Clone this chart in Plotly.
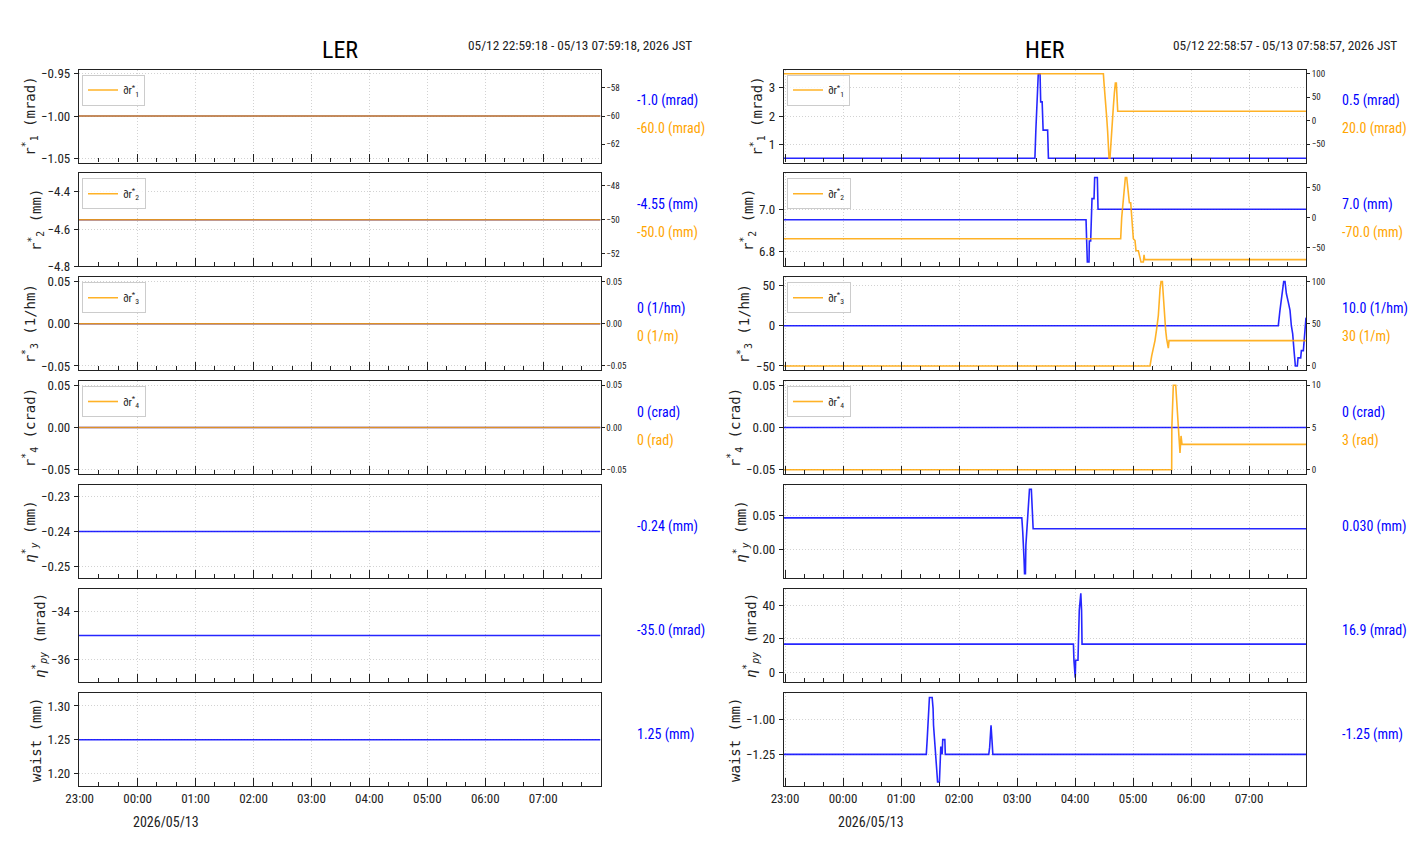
import pandas as pd
import plotly.graph_objects as go

# ---------------- data ----------------
LER_START, LER_END = "22:59:18", "07:59:18"
HER_START, HER_END = "22:58:57", "07:58:57"
ler_range_text = "05/12 22:59:18 - 05/13 07:59:18, 2026 JST"
her_range_text = "05/12 22:58:57 - 05/13 07:58:57, 2026 JST"
date_label = "2026/05/13"

# LER: all knobs constant over the window
ler_t = [LER_START, LER_END]
ler_r1 = [-1.0, -1.0]
ler_dr1 = [-60.0, -60.0]
ler_r2 = [-4.55, -4.55]
ler_dr2 = [-50.0, -50.0]
ler_r3 = [0.0, 0.0]
ler_dr3 = [0.0, 0.0]
ler_r4 = [0.0, 0.0]
ler_dr4 = [0.0, 0.0]
ler_ey = [-0.24, -0.24]
ler_epy = [-35.0, -35.0]
ler_waist = [1.25, 1.25]

# HER
her_r1_t = ["22:58:57", "03:18:30", "03:19:30", "03:20:30", "03:22:00", "03:23:50", "03:24:30",
            "03:26:00", "03:27:00", "03:31:40", "03:32:30", "07:58:57"]
her_r1 = [0.5, 0.5, 1.5, 2.5, 3.5, 3.5, 2.5, 2.5, 1.5, 1.5, 0.5, 0.5]

her_dr1_t = ["22:58:57", "04:29:20", "04:30:00", "04:31:00", "04:32:00", "04:32:45", "04:33:45",
             "04:34:30", "04:35:10", "04:36:10", "04:37:15", "04:38:15", "04:39:40", "04:40:40",
             "04:41:45", "04:42:45", "04:43:05", "04:44:10", "07:58:57"]
her_dr1 = [100, 100, 80, 58, 37, 8, -23, -58, -80, -80, -40, -9, 30, 58, 80, 80, 58, 20, 20]

her_r2_t = ["22:58:57", "04:11:24", "04:12:03", "04:12:45", "04:14:28", "04:14:50", "04:16:12",
            "04:17:35", "04:19:40", "04:20:20", "04:23:06", "04:23:49", "07:58:57"]
her_r2 = [6.95, 6.95, 6.85, 6.75, 6.75, 6.85, 6.85, 7.05, 7.05, 7.15, 7.15, 7.0, 7.0]

her_dr2_t = ["22:58:57", "04:47:14", "04:48:17", "04:50:00", "04:51:20", "04:52:05", "04:53:28",
             "04:54:29", "04:56:13", "04:57:36", "04:58:38", "05:00:20", "05:02:03", "05:03:06",
             "05:05:31", "05:07:14", "05:08:17", "05:10:41", "05:11:24", "05:12:03", "07:58:57"]
her_dr2 = [-35, -35, 0, 38, 63, 67, 67, 50, 25, 25, 3, -35, -38, -55, -55, -71, -74, -74, -62, -70, -70]

her_r3_t = ["22:58:57", "07:30:18", "07:32:00", "07:32:46", "07:34:30", "07:35:53", "07:37:15",
            "07:38:38", "07:40:41", "07:42:25", "07:43:48", "07:45:11", "07:46:34", "07:47:57",
            "07:49:58", "07:50:42", "07:53:28", "07:54:10", "07:56:13", "07:56:53", "07:58:57"]
her_r3 = [0, 0, 19, 27, 42, 55, 55, 40, 29, 19, 0, -10, -31, -50, -50, -40, -40, -31, -31, -19, 10]

her_dr3_t = ["22:58:57", "05:17:35", "05:19:19", "05:21:04", "05:22:44", "05:24:29", "05:26:13",
             "05:27:58", "05:28:59", "05:30:22", "05:31:23", "05:32:46", "05:33:47", "05:34:48",
             "05:35:53", "05:36:32", "05:37:15", "07:58:57"]
her_dr3 = [0, 0, 12, 20, 30, 44, 60, 91, 100, 100, 81, 64, 42, 32, 21, 21, 30, 30]

her_r4_t = ["22:58:57", "07:58:57"]
her_r4 = [0.0, 0.0]

her_dr4_t = ["22:58:57", "05:40:00", "05:40:10", "05:41:02", "05:41:42", "05:44:10", "05:45:11",
             "05:46:12", "05:47:35", "05:48:36", "05:49:41", "05:50:42", "07:58:57"]
her_dr4 = [0, 0, 5, 8, 10, 10, 8, 6, 4, 2, 4, 3, 3]

her_ey_t = ["22:58:57", "03:04:58", "03:05:54", "03:06:50", "03:07:19", "03:07:47", "03:08:43",
            "03:09:11", "03:10:08", "03:11:32", "03:12:29", "03:12:54", "03:14:49", "03:15:14",
            "03:15:43", "03:16:41", "07:58:57"]
her_ey = [0.046, 0.046, 0.026, 0.006, -0.016, -0.036, -0.036, 0.006, 0.026, 0.045, 0.067,
          0.088, 0.088, 0.067, 0.045, 0.030, 0.030]

her_epy_t = ["22:58:57", "03:58:23", "03:58:52", "03:59:46", "04:00:14", "04:00:40", "04:03:04",
             "04:04:25", "04:05:24", "04:06:00", "04:06:47", "04:07:16", "07:58:57"]
her_epy = [16.9, 16.9, 7.4, -3, -3, 7.4, 7.4, 37, 47, 47, 37, 16.9, 16.9]

her_waist_t = ["22:58:57", "01:26:09", "01:27:04", "01:28:00", "01:28:56", "01:29:24", "01:32:13",
               "01:33:10", "01:33:38", "01:34:34", "01:35:31", "01:36:27", "01:37:51", "01:39:44",
               "01:40:12", "01:41:07", "01:42:00", "01:42:32", "01:43:10", "01:45:21", "01:45:49",
               "02:30:47", "02:31:41", "02:32:09", "02:33:07", "02:34:04", "02:35:00", "07:58:57"]
her_waist = [-1.25, -1.25, -1.144, -1.04, -0.92, -0.84, -0.84, -0.92, -1.04, -1.144, -1.25,
             -1.33, -1.45, -1.45, -1.33, -1.2, -1.2, -1.25, -1.144, -1.144, -1.25, -1.25,
             -1.2, -1.144, -1.04, -1.144, -1.25, -1.25]

y_titles = ["r<sup>*</sup><sub>1</sub> (mrad)", "r<sup>*</sup><sub>2</sub> (mm)",
            "r<sup>*</sup><sub>3</sub> (1/hm)", "r<sup>*</sup><sub>4</sub> (crad)",
            "<i>η</i><sup>*</sup><sub><i>y</i></sub> (mm)",
            "<i>η</i><sup>*</sup><sub><i>py</i></sub> (mrad)", "waist (mm)"]
legend_names = ["∂r<sup>*</sup><sub>1</sub>", "∂r<sup>*</sup><sub>2</sub>",
                "∂r<sup>*</sup><sub>3</sub>", "∂r<sup>*</sup><sub>4</sub>"]

ler_value_labels = [("-1.0 (mrad)", "-60.0 (mrad)"), ("-4.55 (mm)", "-50.0 (mm)"),
                    ("0 (1/hm)", "0 (1/m)"), ("0 (crad)", "0 (rad)"),
                    ("-0.24 (mm)", None), ("-35.0 (mrad)", None), ("1.25 (mm)", None)]
her_value_labels = [("0.5 (mrad)", "20.0 (mrad)"), ("7.0 (mm)", "-70.0 (mm)"),
                    ("10.0 (1/hm)", "30 (1/m)"), ("0 (crad)", "3 (rad)"),
                    ("0.030 (mm)", None), ("16.9 (mrad)", None), ("-1.25 (mm)", None)]


def ts(clock):
    h = int(clock[:2])
    day = "2026-05-12" if h >= 12 else "2026-05-13"
    return pd.Timestamp(f"{day} {clock}")


sides = [
    dict(name="LER", start=LER_START, end=LER_END, range_text=ler_range_text,
         blue=[(ler_t, ler_r1), (ler_t, ler_r2), (ler_t, ler_r3), (ler_t, ler_r4),
               (ler_t, ler_ey), (ler_t, ler_epy), (ler_t, ler_waist)],
         orange=[(ler_t, ler_dr1), (ler_t, ler_dr2), (ler_t, ler_dr3), (ler_t, ler_dr4)],
         labels=ler_value_labels,
         ldtick=[0.05, 0.2, 0.05, 0.05, 0.01, 2, 0.05],
         lfmt=[".2f", ".1f", ".2f", ".2f", ".2f", "d", ".2f"],
         rdtick=[2, 2, 0.05, 0.05], rfmt=["d", "d", ".2f", ".2f"],
         x0=79, x1=600.5),
    dict(name="HER", start=HER_START, end=HER_END, range_text=her_range_text,
         blue=[(her_r1_t, her_r1), (her_r2_t, her_r2), (her_r3_t, her_r3), (her_r4_t, her_r4),
               (her_ey_t, her_ey), (her_epy_t, her_epy), (her_waist_t, her_waist)],
         orange=[(her_dr1_t, her_dr1), (her_dr2_t, her_dr2), (her_dr3_t, her_dr3),
                 (her_dr4_t, her_dr4)],
         labels=her_value_labels,
         ldtick=[1, 0.2, 50, 0.05, 0.05, 20, 0.25],
         lfmt=["d", ".1f", "d", ".2f", ".2f", "d", ".2f"],
         rdtick=[50, 50, 50, 5], rfmt=["d", "d", "d", "d"],
         x0=784, x1=1306),
]

# ---------------- styling ----------------
W, H = 1412, 864
panel_tops = [69.5, 173.3, 277.2, 381.0, 485.0, 589.0, 693.3]
panel_h = 93
NARROW = "Roboto Condensed, Liberation Sans Narrow, Liberation Sans, Arial, sans-serif"
MONO = "DejaVu Sans Mono, monospace"
BLUE = "rgba(0,0,255,0.85)"
ORANGE = "rgba(255,165,0,0.85)"
GRID = "#d2d2d2"
GDASH = "1px,2px"
AXLINE = "#222222"


def px_x(v):
    return v / W


def px_y(v):
    return 1 - v / H


def auto_range(vals):
    lo, hi = min(vals), max(vals)
    if hi == lo:
        d = 0.05 * abs(lo) if lo != 0 else 0.05
        lo, hi = lo - d, hi + d
    m = 0.05 * (hi - lo)
    return [lo - m, hi + m]


fig = go.Figure()
layout = dict(width=W, height=H, margin=dict(l=0, r=0, t=0, b=0, autoexpand=False),
              paper_bgcolor="white", plot_bgcolor="white", showlegend=True,
              font=dict(family=NARROW, color="#222"))
annotations = []
n_right = 15
leg_idx = 0

for s, side in enumerate(sides):
    xr = [ts(side["start"]), ts(side["end"])]
    xdom = [px_x(side["x0"]), px_x(side["x1"])]
    for p in range(7):
        n = s * 7 + p + 1
        top = panel_tops[p]
        ydom = [px_y(top + panel_h), px_y(top)]
        xa = "xaxis" if n == 1 else f"xaxis{n}"
        ya = "yaxis" if n == 1 else f"yaxis{n}"
        xid = "x" if n == 1 else f"x{n}"
        yid = "y" if n == 1 else f"y{n}"
        layout[xa] = dict(
            domain=xdom, anchor=yid, type="date", range=xr,
            tick0="2026-05-12 23:00:00", dtick=3600000, tickformat="%H:%M",
            ticks="inside", ticklen=8, tickcolor=AXLINE, tickwidth=1,
            minor=dict(dtick=1200000, tick0="2026-05-12 23:00:00", ticks="inside",
                       ticklen=4, tickcolor=AXLINE, showgrid=False),
            showgrid=True, gridcolor=GRID, griddash=GDASH, gridwidth=1,
            showline=True, linecolor=AXLINE, linewidth=1.3, mirror=True,
            showticklabels=(p == 6), ticklabelstandoff=0, automargin=False,
            tickfont=dict(size=13, family=NARROW, color="#222"),
            zeroline=False,
        )
        bt, bv = side["blue"][p]
        layout[ya] = dict(
            domain=ydom, anchor=xid, range=auto_range(bv),
            tick0=0, dtick=side["ldtick"][p], tickformat=side["lfmt"][p],
            ticks="outside", ticklen=4, tickcolor=AXLINE, ticklabelstandoff=1,
            showgrid=True, gridcolor=GRID, griddash=GDASH, gridwidth=1,
            showline=True, linecolor=AXLINE, linewidth=1.3, mirror=True, automargin=False,
            zeroline=False, tickfont=dict(size=13, family=NARROW, color="#222"),
            title=dict(text=y_titles[p], font=dict(size=14, family=MONO, color="#222"),
                       standoff=2),
        )
        fig.add_trace(go.Scatter(x=[ts(t) for t in bt], y=bv, mode="lines",
                                 line=dict(color=BLUE, width=1.6), showlegend=False,
                                 xaxis=xid, yaxis=yid, hoverinfo="x+y"))
        if p < 4:
            ot, ov = side["orange"][p]
            rid = f"y{n_right}"
            layout[f"yaxis{n_right}"] = dict(
                overlaying=yid, anchor=xid, side="right", range=auto_range(ov),
                tick0=0, dtick=side["rdtick"][p], tickformat=side["rfmt"][p],
                ticks="outside", ticklen=3, tickcolor=AXLINE, showgrid=False,
                zeroline=False, showline=False, automargin=False,
                tickfont=dict(size=9, family=NARROW, color="#222"),
            )
            leg_idx += 1
            lname = "legend" if leg_idx == 1 else f"legend{leg_idx}"
            layout[lname] = dict(
                x=px_x(side["x0"] + 3), y=px_y(top + 5), xanchor="left", yanchor="top",
                bgcolor="rgba(255,255,255,0.8)", bordercolor="#cccccc", borderwidth=1,
                font=dict(size=11, family=NARROW, color="#222"), itemwidth=30,
            )
            fig.add_trace(go.Scatter(x=[ts(t) for t in ot], y=ov, mode="lines",
                                     line=dict(color=ORANGE, width=1.6),
                                     name=legend_names[p], legend=lname,
                                     xaxis=xid, yaxis=rid, hoverinfo="x+y"))
            n_right += 1

        blab, olab = side["labels"][p]
        lx = px_x(side["x1"] + 34)
        if olab is None:
            annotations.append(dict(text=blab, x=lx, y=px_y(top + 41), xref="paper",
                                    yref="paper", xanchor="left", yanchor="middle",
                                    showarrow=False,
                                    font=dict(size=14, family=NARROW, color="blue")))
        else:
            annotations.append(dict(text=blab, x=lx, y=px_y(top + 31), xref="paper",
                                    yref="paper", xanchor="left", yanchor="middle",
                                    showarrow=False,
                                    font=dict(size=14, family=NARROW, color="blue")))
            annotations.append(dict(text=olab, x=lx, y=px_y(top + 59), xref="paper",
                                    yref="paper", xanchor="left", yanchor="middle",
                                    showarrow=False,
                                    font=dict(size=14, family=NARROW, color="orange")))

    # side title, time range, date
    annotations.append(dict(text=side["name"], x=(xdom[0] + xdom[1]) / 2, y=px_y(50),
                            xref="paper", yref="paper", xanchor="center", yanchor="middle",
                            showarrow=False, font=dict(size=24, family=NARROW, color="black")))
    annotations.append(dict(text=side["range_text"], x=px_x(side["x1"] + 93), y=px_y(46),
                            xref="paper", yref="paper", xanchor="right", yanchor="middle",
                            showarrow=False, font=dict(size=13.3, family=NARROW, color="#222")))
    annotations.append(dict(text=date_label, x=px_x(side["x0"] + 87), y=px_y(822),
                            xref="paper", yref="paper", xanchor="center", yanchor="middle",
                            showarrow=False, font=dict(size=14, family=NARROW, color="#222")))

layout["annotations"] = annotations
fig.update_layout(**layout)
fig.write_html("out.html")
